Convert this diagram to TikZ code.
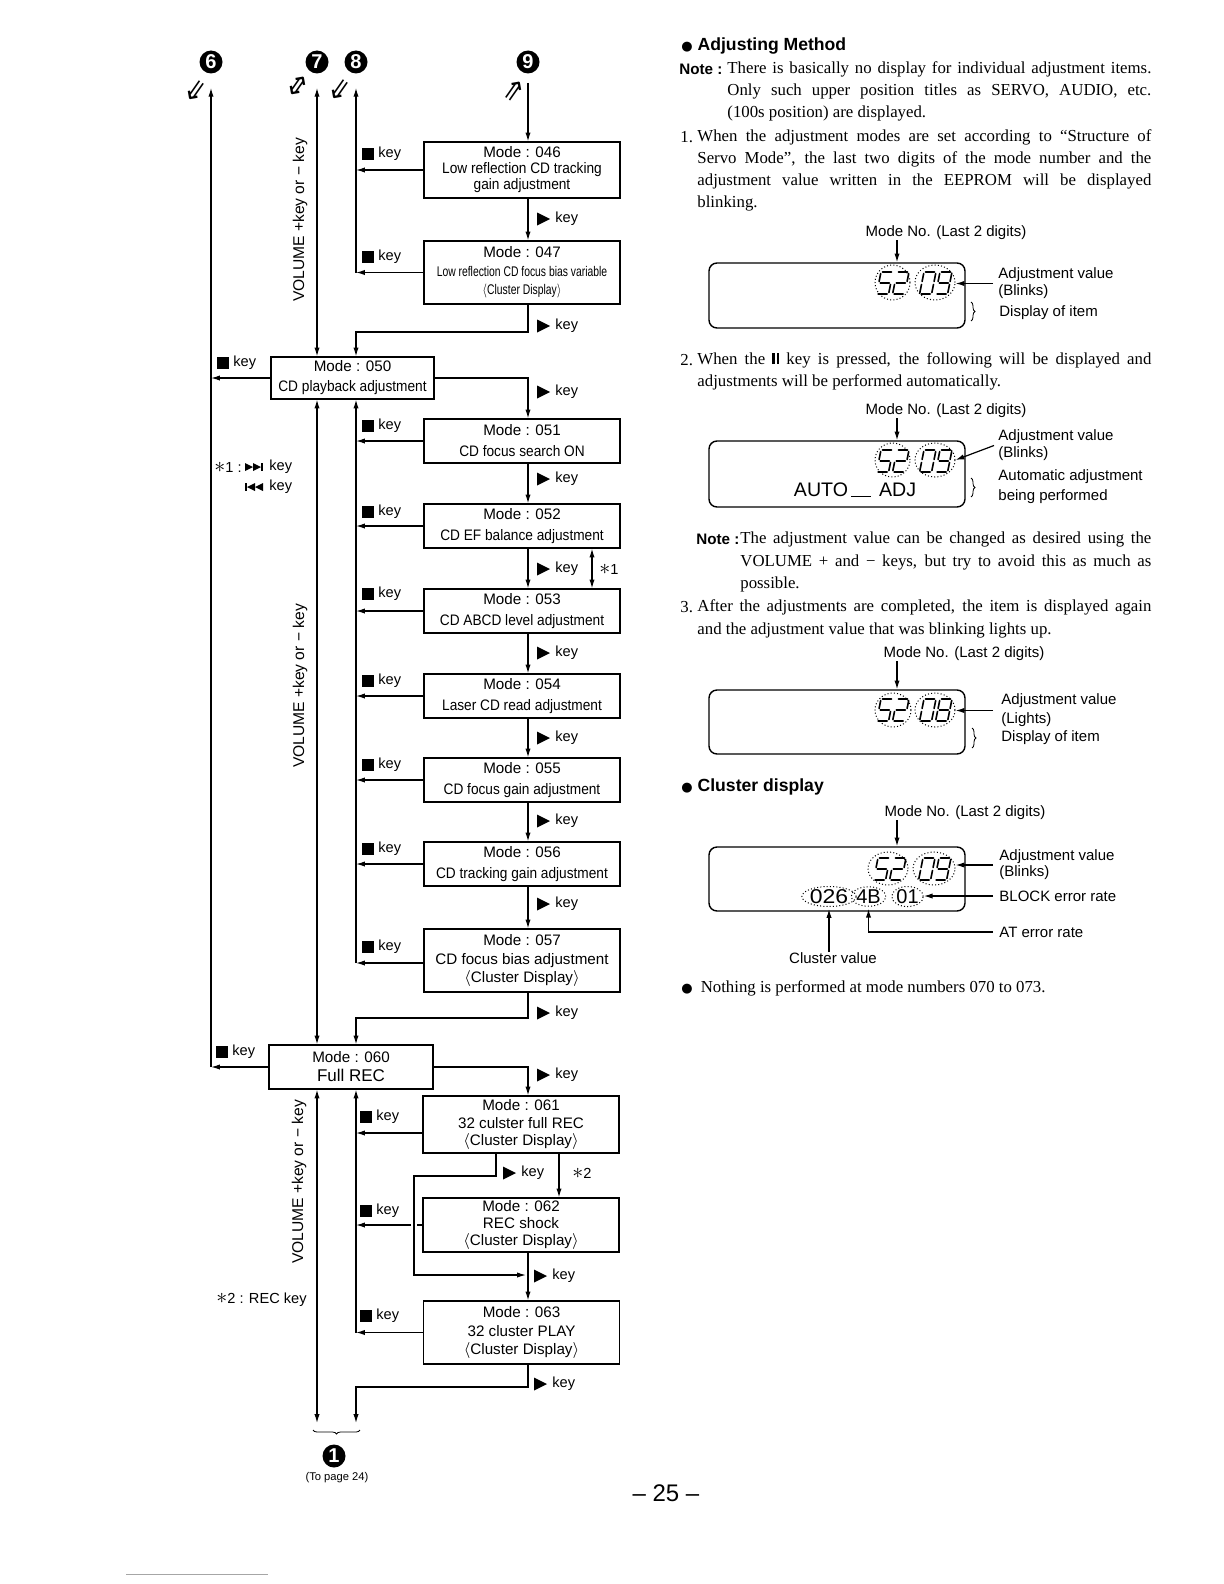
\documentclass[tikz,border=0pt]{standalone}
\usepackage{fontspec}
\usepackage{graphicx}
\setmainfont{Liberation Serif}
\setsansfont{Liberation Sans}
\newfontfamily\dejavu{DejaVu Sans}
\newfontfamily\condsans[FakeStretch=0.9]{Liberation Sans}
\usetikzlibrary{arrows.meta,calc,shapes.geometric,decorations.pathreplacing}
\newcommand\fsz[2]{\fontsize{#1}{#2}\selectfont}
\newcommand\cnd[1]{{\condsans #1}}
\newcommand\cdisp{$\langle$Cluster Display$\rangle$}
\newcommand\pausesym{\rule{1.3pt}{5.8pt}\kern0.8pt\rule{1.3pt}{5.8pt}}
\newcommand\jline[2]{\makebox[#1][s]{#2}}
\newcommand\bigbul{{\dejavu\fsz{6.5}{6.5}●}}
\newcommand\bigast{{\fsz{10.5}{10.5}$\ast$}}
\tikzset{
 seg/.style={line width=0.8pt, line cap=round},
 ln/.style={line width=0.6pt},
 arr/.style={line width=0.6pt, -{Latex[length=4.4pt,width=2.6pt]}},
 darr/.style={line width=0.6pt, {Latex[length=4.4pt,width=2.6pt]}-{Latex[length=4.4pt,width=2.6pt]}},
 mbox/.style={draw, line width=0.6pt, inner sep=0pt, minimum width=98pt, align=center},
 keyl/.style={anchor=west, inner sep=0pt, font=\sffamily\fsz{7.3}{7.3}},
 cnum/.style={circle, fill=black, inner sep=0pt, minimum size=11.5pt, text=white, font=\sffamily\bfseries\fsz{10}{10}},
 harr/.style={inner sep=0pt, font=\dejavu\fsz{14}{14}},
 vol/.style={inner sep=0pt, rotate=90, font=\sffamily\fsz{7.8}{7.8}},
 lab/.style={inner sep=0pt, font=\sffamily\fsz{7.5}{8.5}, align=left},
 body/.style={anchor=west, inner sep=0pt, font=\rmfamily\fsz{8.4}{11}},
 lcd/.style={draw, line width=0.7pt, rounded corners=4pt, minimum width=128pt, minimum height=32.5pt, inner sep=0pt},
 dell/.style={ellipse, draw, line width=0.5pt, dash pattern=on 0.5pt off 1.1pt, inner sep=0pt},
 brc/.style={decorate, decoration={brace, amplitude=2pt}, line width=0.4pt},
}
\newcommand\sgA{\draw[seg] (1.5,0) -- (10.5,0);}
\newcommand\sgB{\draw[seg] (12,1.5) -- (12,9.5);}
\newcommand\sgC{\draw[seg] (12,12.5) -- (12,20.5);}
\newcommand\sgD{\draw[seg] (1.5,22) -- (10.5,22);}
\newcommand\sgE{\draw[seg] (0,12.5) -- (0,20.5);}
\newcommand\sgF{\draw[seg] (0,1.5) -- (0,9.5);}
\newcommand\sgG{\draw[seg] (1.5,11) -- (10.5,11);}
\newcommand\dFive{\sgA\sgF\sgG\sgC\sgD}
\newcommand\dTwo{\sgA\sgB\sgG\sgE\sgD}
\newcommand\dZero{\sgA\sgB\sgC\sgD\sgE\sgF}
\newcommand\dNine{\sgA\sgB\sgC\sgD\sgF\sgG}
\newcommand\dEight{\sgA\sgB\sgC\sgD\sgE\sgF\sgG}
\newcommand\dgt[3]{\begin{scope}[shift={(#1,#2)},xslant=0.2]#3\end{scope}}
\newcommand\sqk[3]{\fill (#2,#3-6) rectangle (#2+11.5,#3+5.5); \node[keyl] (#1) at (#2+16,#3) {key};}
\newcommand\trk[3]{\fill (#2,#3-6.5) -- (#2,#3+6.5) -- (#2+13,#3) -- cycle; \node[keyl] (#1) at (#2+18,#3) {key};}
\begin{document}
\begin{tikzpicture}[x=0.5pt,y=-0.5pt]
\fill[white] (0,0) rectangle (1224,1584);
\useasboundingbox (0,0) rectangle (1224,1584);

\coordinate (vx) at (528,0);
\coordinate (Lone) at (211,0);
\coordinate (Ltwo) at (317,0);
\coordinate (Lthree) at (356,0);
\coordinate (sx) at (592,0);
\coordinate (tx) at (559,0);
\coordinate (bx) at (496,0);
\coordinate (ax) at (897,0);

% circled numbers
\node[cnum] (c6) at (211,62) {6};
\node[cnum] (c7) at (317,62) {7};
\node[cnum] (c8) at (356,62) {8};
\node[cnum] (c9) at (528,62) {9};
\node[cnum] (c1) at (334,1456) {1};
\node[harr, rotate=-35] (h6) at (196,91) {⇓};
\node[harr, rotate=-35] (h7) at (298,86) {⇕};
\node[harr, rotate=-35] (h8) at (340,90) {⇓};
\node[harr, rotate=-35] (h9) at (514,91) {⇑};

% mode boxes
\node[mbox, minimum height=28pt, font=\sffamily\fsz{7.6}{8}] (b046) at (522,170) {Mode : 046\\\cnd{Low reflection CD tracking}\\\cnd{gain adjustment}};
\node[mbox, minimum height=31.5pt, font=\sffamily\fsz{7.6}{9.2}] (b047) at (522,272.5) {Mode : 047\\\scalebox{0.74}[1]{\fsz{7}{7}Low reflection CD focus bias variable}\\\scalebox{0.74}[1]{\fsz{7}{7}\cdisp}};
\node[mbox, minimum width=81.5pt, minimum height=21pt, font=\sffamily\fsz{7.6}{10}] (b050) at (352.5,378) {Mode : 050\\\cnd{CD playback adjustment}};
\node[mbox, minimum height=22pt, font=\sffamily\fsz{7.6}{10.5}] (b051) at (522,441) {Mode : 051\\\cnd{CD focus search ON}};
\node[mbox, minimum height=22pt, font=\sffamily\fsz{7.6}{10.5}] (b052) at (522,526) {Mode : 052\\\cnd{CD EF balance adjustment}};
\node[mbox, minimum height=22pt, font=\sffamily\fsz{7.6}{10.5}] (b053) at (522,611) {Mode : 053\\\cnd{CD ABCD level adjustment}};
\node[mbox, minimum height=22pt, font=\sffamily\fsz{7.6}{10.5}] (b054) at (522,696) {Mode : 054\\\cnd{Laser CD read adjustment}};
\node[mbox, minimum height=22pt, font=\sffamily\fsz{7.6}{10.5}] (b055) at (522,780) {Mode : 055\\\cnd{CD focus gain adjustment}};
\node[mbox, minimum height=22pt, font=\sffamily\fsz{7.6}{10.5}] (b056) at (522,864) {Mode : 056\\\cnd{CD tracking gain adjustment}};
\node[mbox, minimum height=31.5pt, font=\sffamily\fsz{7.6}{9.2}] (b057) at (522,960.5) {Mode : 057\\CD focus bias adjustment\\\cdisp};
\node[mbox, minimum width=82pt, minimum height=22pt, font=\sffamily\fsz{7.6}{9.5}] (b060) at (351,1067) {Mode : 060\\{\fsz{8.5}{8.5}Full REC}};
\node[mbox, minimum height=28.5pt, font=\sffamily\fsz{7.6}{8.8}] (b061) at (521,1124.5) {Mode : 061\\32 culster full REC\\\cdisp};
\node[mbox, minimum height=27pt, font=\sffamily\fsz{7.6}{8.5}] (b062) at (521,1225) {Mode : 062\\REC shock\\\cdisp};
\node[mbox, minimum height=31.5pt, font=\sffamily\fsz{7.6}{9.2}] (b063) at (521.5,1332.5) {Mode : 063\\32 cluster PLAY\\\cdisp};

% VOLUME labels
\node[vol] (v1) at (300,220) {VOLUME +key or − key};
\node[vol] (v2) at (300,686) {VOLUME +key or − key};
\node[vol] (v3) at (299,1182) {VOLUME +key or − key};

% main flow
\draw[arr, shorten <=4.5pt] (c9) -- (b046.north -| vx);
\draw[arr] (b046.south -| vx) -- (b047.north -| vx);
\draw[arr] (b047.south -| vx) -- (528,332) -- (356,332) -- (b050.north -| Lthree);
\draw[arr] (b050.east) -- (b050.east -| vx) -- (b051.north -| vx);
\draw[arr] (b051.south -| vx) -- (b052.north -| vx);
\draw[arr] (b052.south -| vx) -- (b053.north -| vx);
\draw[arr] (b053.south -| vx) -- (b054.north -| vx);
\draw[arr] (b054.south -| vx) -- (b055.north -| vx);
\draw[arr] (b055.south -| vx) -- (b056.north -| vx);
\draw[arr] (b056.south -| vx) -- (b057.north -| vx);
\draw[arr] (b057.south -| vx) -- (528,1018) -- (356,1018) -- (b060.north -| Lthree);
\draw[arr] (b060.east) -- (b060.east -| vx) -- (b061.north -| vx);
\draw[arr] (b061.south -| bx) -- (496,1176) -- (414,1176) -- (414,1275) -- (526,1275);
\draw[arr] (b061.south -| tx) -- (b062.north -| tx);
\draw[arr] (b062.south -| vx) -- (b063.north -| vx);
\draw[arr] (b063.south -| vx) -- (528,1387) -- (356,1387) -- (356,1423);
\draw[darr] (b052.south -| sx) -- (b053.north -| sx);

% stop-key returns
\draw[arr] (b046.west) -- (b046.west -| Lthree);
\draw[arr] (b047.west) -- (b047.west -| Lthree);
\draw[arr, shorten >=7pt] (b047.west -| Lthree) -- (c8);
\draw[arr] (b051.west) -- (b051.west -| Lthree);
\draw[arr] (b052.west) -- (b052.west -| Lthree);
\draw[arr] (b053.west) -- (b053.west -| Lthree);
\draw[arr] (b054.west) -- (b054.west -| Lthree);
\draw[arr] (b055.west) -- (b055.west -| Lthree);
\draw[arr] (b056.west) -- (b056.west -| Lthree);
\draw[arr] ($(b057.west)+(0,2.5)$) -- ($(b057.west -| Lthree)+(0,2.5)$);
\draw[arr] ($(b057.west -| Lthree)+(0,2.5)$) -- (b050.south -| Lthree);
\draw[arr] ($(b061.west)+(0,8.5)$) -- ($(b061.west -| Lthree)+(0,8.5)$);
\draw[ln] (b062.west) -- (417,1225);
\draw[arr] (411,1225) -- (b062.west -| Lthree);
\draw[arr] (b063.west) -- (b063.west -| Lthree);
\draw[arr] (b063.west -| Lthree) -- (b060.south -| Lthree);
\draw[arr] (b050.west) -- (b050.west -| Lone);
\draw[arr] (b060.west) -- (b060.west -| Lone);
\draw[arr, shorten >=7pt] (b060.west -| Lone) -- (c6);

% volume lines
\draw[darr, shorten >=7pt] (b050.north -| Ltwo) -- (c7);
\draw[darr] (b050.south -| Ltwo) -- (b060.north -| Ltwo);
\draw[darr] (b060.south -| Ltwo) -- (317,1423);
\draw[brc, decoration={mirror}] (313,1430) -- (360,1430);
\node[inner sep=0pt, font=\sffamily\fsz{5.6}{5.6}] (tp) at (337,1478) {(To page 24)};

% key labels
\sqk{q046}{362}{154}
\sqk{q047}{362}{257}
\sqk{q051}{362}{426}
\sqk{q052}{362}{512}
\sqk{q053}{362}{594}
\sqk{q054}{362}{681}
\sqk{q055}{362}{765}
\sqk{q056}{362}{849}
\sqk{q057}{362}{947}
\sqk{q061}{360}{1117}
\sqk{q062}{360}{1211}
\sqk{q063}{360}{1316}
\sqk{q050}{217}{363}
\sqk{q060}{216}{1052}
\trk{t046}{537}{219}
\trk{t047}{537}{326}
\trk{t050}{537}{392}
\trk{t051}{537}{479}
\trk{t052}{537}{569}
\trk{t053}{537}{653}
\trk{t054}{537}{738}
\trk{t055}{537}{821}
\trk{t056}{537}{904}
\trk{t057}{537}{1013}
\trk{t060}{537}{1075}
\trk{t061}{503}{1173}
\trk{t062}{534}{1276}
\trk{t063}{534}{1384}
\node[keyl] (st1) at (599,569) {\bigast 1};
\node[keyl] (st2) at (572,1173) {\bigast 2};
\node[keyl] (sk1) at (214,467) {\bigast 1 :};
\fill (245,463) -- (245,471) -- (253,467) -- cycle;
\fill (253,463) -- (253,471) -- (261,467) -- cycle;
\fill (261,463) rectangle (263,471);
\node[keyl] (sk1a) at (269,467) {key};
\fill (245,483) rectangle (247,491);
\fill (255,483) -- (255,491) -- (247,487) -- cycle;
\fill (263,483) -- (263,491) -- (255,487) -- cycle;
\node[keyl] (sk1b) at (269,487) {key};
\node[keyl] (sk2) at (216,1300) {\bigast 2 : REC key};

% ===== right column text =====
\node[anchor=west, inner sep=0pt, font=\sffamily\bfseries\fsz{8.8}{8.8}] (hAM) at (681,46) {\bigbul\ Adjusting Method};
\node[anchor=west, inner sep=0pt, font=\sffamily\bfseries\fsz{7.6}{7.6}] (nt0) at (679,69) {Note :};
\node[body] (nt1) at (727,69) {\jline{212pt}{There is basically no display for individual adjustment items.}};
\node[body] (nt2) at (727,91) {\jline{212pt}{Only such upper position titles as SERVO, AUDIO, etc.}};
\node[body] (nt3) at (727,113) {(100s position) are displayed.};
\node[body] (i1n) at (680,137) {1.};
\node[body] (i1a) at (697,137) {\jline{227pt}{When the adjustment modes are set according to “Structure of}};
\node[body] (i1b) at (697,159) {\jline{227pt}{Servo Mode”, the last two digits of the mode number and the}};
\node[body] (i1c) at (697,181) {\jline{227pt}{adjustment value written in the EEPROM will be displayed}};
\node[body] (i1d) at (697,203) {blinking.};
\node[body] (i2n) at (680,360) {2.};
\node[body] (i2a) at (697,360) {\jline{227pt}{When the \pausesym\ key is pressed, the following will be displayed and}};
\node[body] (i2b) at (697,382) {adjustments will be performed automatically.};
\node[anchor=west, inner sep=0pt, font=\sffamily\bfseries\fsz{7.6}{7.6}] (n2h) at (696,539) {Note :};
\node[body] (n2a) at (740,539) {\jline{205.5pt}{The adjustment value can be changed as desired using the}};
\node[body] (n2b) at (740,562) {\jline{205.5pt}{VOLUME + and − keys, but try to avoid this as much as}};
\node[body] (n2c) at (740,584) {possible.};
\node[body] (i3n) at (680,607) {3.};
\node[body] (i3a) at (697,607) {\jline{227pt}{After the adjustments are completed, the item is displayed again}};
\node[body] (i3b) at (697,630) {and the adjustment value that was blinking lights up.};
\node[anchor=west, inner sep=0pt, font=\sffamily\bfseries\fsz{8.8}{8.8}] (hCD) at (681,787) {\bigbul\ Cluster display};
\node[body] (hNo) at (681,988) {\bigbul\hspace{4pt}Nothing is performed at mode numbers 070 to 073.};

% ===== display 1 =====
\node[lcd] (d1) at (837,295.5) {};
\node[lab] (m1) at (946,233) {Mode No. (Last 2 digits)};
\draw[arr] (m1.south -| ax) -- (d1.north -| ax);
\node[dell, minimum width=17.5pt, minimum height=17.5pt] (e1a) at (892.5,282.5) {};
\node[dell, minimum width=20pt, minimum height=17.5pt] (e1b) at (935,282.5) {};
\dgt{881}{272}{\dFive}\dgt{897}{272}{\dTwo}\dgt{924}{272}{\dZero}\dgt{940}{272}{\dNine}
\node[lab, anchor=west] (av1) at (998,283.5) {Adjustment value\\(Blinks)};
\draw[arr] ([xshift=-2.5pt]av1.west) -- (av1.west -| e1b.east);
\node[lab, anchor=west] (di1) at (999,313) {Display of item};
\draw[brc] (971,302) -- (971,321);

% ===== display 2 =====
\node[lcd, minimum height=33pt] (d2) at (837,474) {};
\node[lab] (m2) at (946,411) {Mode No. (Last 2 digits)};
\draw[arr] (m2.south -| ax) -- (d2.north -| ax);
\node[dell, minimum width=17.5pt, minimum height=17pt] (e2a) at (892.5,460) {};
\node[dell, minimum width=20pt, minimum height=17pt] (e2b) at (935,460) {};
\dgt{881}{450}{\dFive}\dgt{897}{450}{\dTwo}\dgt{924}{450}{\dZero}\dgt{940}{450}{\dNine}
\node[inner sep=0pt, font=\sffamily\fsz{9.8}{9.8}] (auto) at (855,490) {AUTO\hspace{1.5pt}\rule[-0.4pt]{10pt}{0.8pt}\hspace{4pt}ADJ};
\node[lab, anchor=west] (av2) at (998,445.5) {Adjustment value\\(Blinks)};
\draw[arr] ([xshift=-2pt]av2.west) -- (e2b.east);
\node[lab, anchor=west, font=\sffamily\fsz{7.5}{10}] (aa2) at (998,487) {Automatic adjustment\\being performed};
\draw[brc] (971,478) -- (971,497);

% ===== display 3 =====
\node[lcd, minimum height=32pt] (d3) at (837,722) {};
\node[lab] (m3) at (964,654) {Mode No. (Last 2 digits)};
\draw[arr] (m3.south -| ax) -- (d3.north -| ax);
\node[dell, minimum width=18pt, minimum height=17pt] (e3a) at (893,710) {};
\node[dell, minimum width=20pt, minimum height=17pt] (e3b) at (935,710) {};
\dgt{881}{699}{\dFive}\dgt{897}{699}{\dTwo}\dgt{924}{699}{\dZero}\dgt{940}{699}{\dEight}
\node[lab, anchor=west, font=\sffamily\fsz{7.5}{9.5}] (av3) at (1001,710.5) {Adjustment value\\(Lights)};
\draw[arr] ([xshift=-4pt]av3.west) -- (av3.west -| e3b.east);
\node[lab, anchor=west] (di3) at (1001,738) {Display of item};
\draw[brc] (972,728) -- (972,748);

% ===== display 4 =====
\node[lcd, minimum height=32pt] (d4) at (837,879) {};
\node[lab] (m4) at (965,813) {Mode No. (Last 2 digits)};
\draw[arr] (m4.south -| ax) -- (d4.north -| ax);
\node[dell, minimum width=20pt, minimum height=16.5pt] (e4a) at (888,868.5) {};
\node[dell, minimum width=21pt, minimum height=16.5pt] (e4b) at (934,868.5) {};
\dgt{878}{858}{\dFive}\dgt{894}{858}{\dTwo}\dgt{923}{858}{\dZero}\dgt{939}{858}{\dNine}
\node[dell, minimum width=24pt, minimum height=8.5pt, font=\sffamily\fsz{10}{10}] (ec1) at (829,896.5) {\scalebox{1.15}[1]{026}};
\node[dell, minimum width=13.5pt, minimum height=8.5pt, font=\sffamily\fsz{10}{10}] (ec2) at (868.5,896.5) {4B};
\node[dell, minimum width=15.5pt, minimum height=8.5pt, font=\sffamily\fsz{10}{10}] (ec3) at (907.5,896.5) {01};
\node[lab, anchor=west, font=\sffamily\fsz{7.5}{8}] (av4) at (999,865) {Adjustment value\\(Blinks)};
\draw[arr] ([xshift=-3pt]av4.west) -- (av4.west -| e4b.east);
\node[lab, anchor=west] (bl4) at (999,896) {BLOCK error rate};
\draw[arr] ([xshift=-3pt]bl4.west) -- (bl4.west -| ec3.east);
\node[lab, anchor=west] (at4) at (999,932) {AT error rate};
\draw[arr, shorten >=1pt] ([xshift=-3pt]at4.west) -- (at4.west -| ec2.south) -- (ec2.south);
\node[lab] (cv4) at (833,958) {Cluster value};
\draw[arr, shorten >=1pt] (cv4.north -| ec1.south) -- (ec1.south);

% page number and foot line
\node[inner sep=0pt, font=\sffamily\fsz{12}{12}] (pg) at (666,1493) {– 25 –};
\draw[gray!70, line width=0.5pt] (126,1574) -- (268,1574);
\end{tikzpicture}
\end{document}
